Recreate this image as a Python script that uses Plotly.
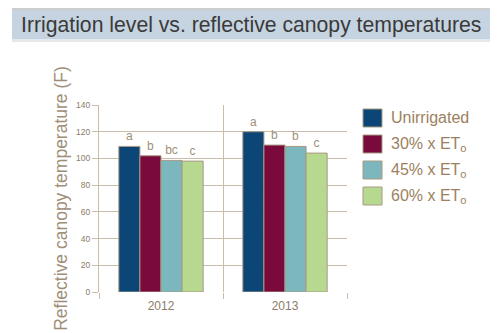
import plotly.graph_objects as go

years = ["2012", "2013"]
series_names = ["Unirrigated", "30% x ET<sub>o</sub>", "45% x ET<sub>o</sub>", "60% x ET<sub>o</sub>"]
values = {
    "Unirrigated": [109, 120],
    "30% x ET<sub>o</sub>": [102, 110],
    "45% x ET<sub>o</sub>": [98.5, 109],
    "60% x ET<sub>o</sub>": [98, 104],
}
letters = {
    "Unirrigated": ["a", "a"],
    "30% x ET<sub>o</sub>": ["b", "b"],
    "45% x ET<sub>o</sub>": ["bc", "b"],
    "60% x ET<sub>o</sub>": ["c", "c"],
}
colors = ["#0b4677", "#7a0a3c", "#7bb7bc", "#b7d88f"]
y_ticks = [0, 20, 40, 60, 80, 100, 120, 140]

W, H = 500, 333
L, R, T, B = 99, 347, 105, 292
tan = "#a08f78"
grid = "#c9bdaa"
font = "Liberation Sans, Arial, sans-serif"

fig = go.Figure()
for name, col in zip(series_names, colors):
    fig.add_trace(go.Bar(
        x=years, y=values[name], name=name,
        marker=dict(color=col, line=dict(color="#a89a84", width=1)),
        text=letters[name], textposition="outside",
        textfont=dict(color=tan, size=12, family=font),
        cliponaxis=False, showlegend=False,
    ))

def px(x):
    return (x - L) / (R - L)

def py(y):
    return (B - y) / (B - T)

shapes = [
    dict(type="rect", xref="paper", yref="paper", x0=px(12), x1=px(490), y0=py(39.5), y1=py(10),
         fillcolor="#c6d3e0", line=dict(width=0), layer="below"),
    dict(type="line", xref="paper", yref="paper", x0=px(12), x1=px(490), y0=py(9), y1=py(9),
         line=dict(color="#9a9a9a", width=1)),
    dict(type="line", xref="paper", yref="paper", x0=px(12), x1=px(490), y0=py(41), y1=py(41),
         line=dict(color="#d0d0d0", width=1)),
]
annotations = [
    dict(text="Irrigation level vs. reflective canopy temperatures", xref="paper", yref="paper",
         x=px(19), y=py(25), xanchor="left", yanchor="middle", showarrow=False,
         font=dict(size=21.2, color="#3a3a3a", family=font)),
]
for i, (name, col) in enumerate(zip(series_names, colors)):
    yc = 118 + i * 26
    shapes.append(dict(type="rect", xref="paper", yref="paper", x0=px(363), x1=px(382),
                       y0=py(yc + 9), y1=py(yc - 9), fillcolor=col,
                       line=dict(color="#a89a84", width=1)))
    annotations.append(dict(text=name, xref="paper", yref="paper", x=px(389), y=py(yc),
                            xanchor="left", yanchor="middle", showarrow=False,
                            font=dict(size=16, color="#9c8160", family=font)))

fig.update_layout(
    width=W, height=H, margin=dict(l=L, r=W - R, t=T, b=H - B),
    plot_bgcolor="white", paper_bgcolor="white",
    barmode="group", bargap=0.32, bargroupgap=0,
    shapes=shapes, annotations=annotations,
    xaxis=dict(type="category", tickson="boundaries", ticks="outside", ticklen=6,
               tickcolor=grid, showgrid=True, gridcolor=grid, gridwidth=1,
               showline=False, ticklabelstandoff=5,
               tickfont=dict(size=12, color="#8a7c68", family=font)),
    yaxis=dict(range=[0, 140], tickvals=y_ticks, ticks="outside", ticklen=6, tickcolor=grid,
               showgrid=True, gridcolor=grid, gridwidth=1, zeroline=False,
               showline=True, linecolor=grid, linewidth=1,
               tickfont=dict(size=8.5, color="#8a7c68", family=font),
               title=dict(text="Reflective canopy temperature (F)", standoff=3,
                          font=dict(size=17.5, color=tan, family=font))),
)

fig.write_html("out.html")
